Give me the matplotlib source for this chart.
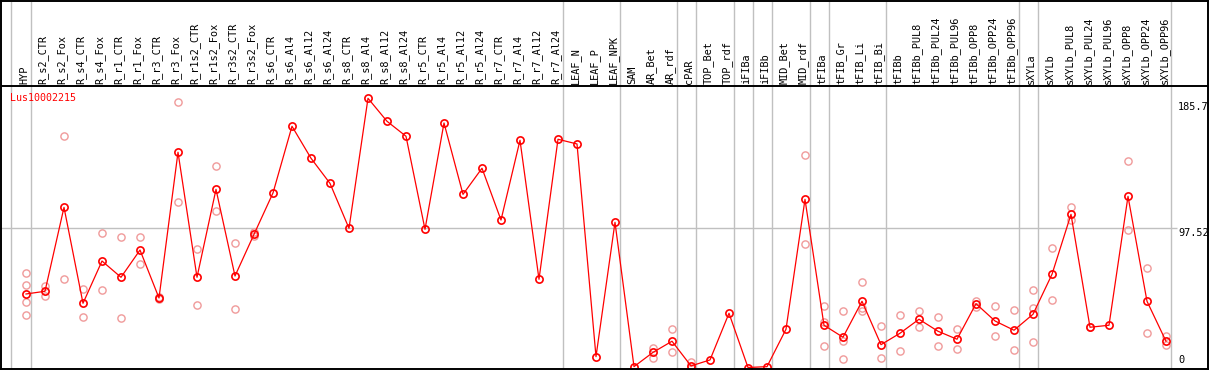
import numpy as np
import matplotlib
matplotlib.use("Agg")
import matplotlib.pyplot as plt
from matplotlib.transforms import blended_transform_factory

gene = "Lus10002215"

samples = ["HYP", "R_s2_CTR", "R_s2_Fox", "R_s4_CTR", "R_s4_Fox", "R_r1_CTR", "R_r1_Fox",
           "R_r3_CTR", "R_r3_Fox", "R_r1s2_CTR", "R_r1s2_Fox", "R_r3s2_CTR", "R_r3s2_Fox",
           "R_s6_CTR", "R_s6_Al4", "R_s6_Al12", "R_s6_Al24", "R_s8_CTR", "R_s8_Al4",
           "R_s8_Al12", "R_s8_Al24", "R_r5_CTR", "R_r5_Al4", "R_r5_Al12", "R_r5_Al24",
           "R_r7_CTR", "R_r7_Al4", "R_r7_Al12", "R_r7_Al24", "LEAF_N", "LEAF_P", "LEAF_NPK",
           "SAM", "AR_Bet", "AR_rdf", "cPAR", "TOP_Bet", "TOP_rdf", "iFIBa", "iFIBb",
           "MID_Bet", "MID_rdf", "tFIBa", "tFIB_Gr", "tFIB_Li", "tFIB_Bi", "tFIBb",
           "tFIBb_PUL8", "tFIBb_PUL24", "tFIBb_PUL96", "tFIBb_OPP8", "tFIBb_OPP24",
           "tFIBb_OPP96", "sXYLa", "sXYLb", "sXYLb_PUL8", "sXYLb_PUL24", "sXYLb_PUL96",
           "sXYLb_OPP8", "sXYLb_OPP24", "sXYLb_OPP96"]

means = [51.5, 53.4, 112.2, 45.0, 74.6, 63.2, 82.3, 48.7, 150.8, 63.2, 124.8, 64.1, 93.3,
         122.3, 169.0, 146.6, 129.0, 97.5, 188.6, 172.5, 162.0, 96.8, 171.3, 121.3, 139.6,
         103.3, 159.2, 61.8, 159.9, 156.6, 7.6, 101.7, 0.6, 10.6, 18.4, 1.1, 5.3, 38.0,
         0.0, 0.6, 26.8, 117.8, 29.6, 21.2, 46.4, 16.0, 24.0, 33.8, 25.4, 19.8, 44.7,
         32.6, 26.1, 37.3, 65.3, 107.3, 28.2, 29.6, 119.9, 46.4, 18.4]

# replicate values (sample name, value)
rep_names = ["HYP", "HYP", "HYP", "HYP", "R_s2_CTR", "R_s2_CTR", "R_s2_Fox", "R_s2_Fox",
             "R_s4_CTR", "R_s4_CTR", "R_s4_Fox", "R_s4_Fox", "R_r1_CTR", "R_r1_CTR",
             "R_r1_Fox", "R_r1_Fox", "R_r3_CTR", "R_r3_CTR", "R_r3_Fox", "R_r3_Fox",
             "R_r1s2_CTR", "R_r1s2_CTR", "R_r1s2_Fox", "R_r1s2_Fox", "R_r3s2_CTR",
             "R_r3s2_CTR", "R_r3s2_Fox", "R_r3s2_Fox", "AR_Bet", "AR_Bet", "AR_rdf",
             "AR_rdf", "cPAR", "cPAR", "MID_rdf", "MID_rdf", "tFIBa", "tFIBa", "tFIBa",
             "tFIB_Gr", "tFIB_Gr", "tFIB_Gr", "tFIB_Li", "tFIB_Li", "tFIB_Li", "tFIB_Bi",
             "tFIB_Bi", "tFIBb", "tFIBb", "tFIBb_PUL8", "tFIBb_PUL8", "tFIBb_PUL24",
             "tFIBb_PUL24", "tFIBb_PUL96", "tFIBb_PUL96", "tFIBb_OPP8", "tFIBb_OPP8",
             "tFIBb_OPP24", "tFIBb_OPP24", "tFIBb_OPP96", "tFIBb_OPP96", "sXYLa", "sXYLa",
             "sXYLa", "sXYLb", "sXYLb", "sXYLb_PUL8", "sXYLb_PUL8", "sXYLb_PUL24",
             "sXYLb_OPP8", "sXYLb_OPP8", "sXYLb_OPP24", "sXYLb_OPP24", "sXYLb_OPP96",
             "sXYLb_OPP96"]
rep_values = [66.0, 57.8, 46.1, 36.6, 57.3, 50.3, 162.2, 61.8, 54.8, 35.2, 94.0, 54.1,
              91.2, 34.5, 91.2, 72.3, 48.0, 49.5, 185.8, 115.7, 82.8, 43.6, 141.0, 109.4,
              87.0, 40.8, 94.9, 92.1, 13.7, 6.9, 26.8, 10.6, 3.9, 0.0, 148.9, 86.3, 43.1,
              31.9, 14.9, 39.4, 18.8, 6.0, 60.1, 39.8, 41.5, 28.9, 6.7, 36.6, 11.6, 39.4,
              28.2, 35.2, 14.9, 26.8, 12.8, 46.8, 42.2, 42.9, 21.9, 40.1, 12.1, 54.1, 41.5,
              17.7, 83.5, 47.1, 112.2, 103.1, 28.2, 144.5, 96.1, 69.5, 24.0, 21.9, 15.6]

# group separators come after these samples
group_ends = ["HYP", "R_r7_Al24", "LEAF_NPK", "AR_rdf", "cPAR", "TOP_rdf", "iFIBa",
              "iFIBb", "MID_rdf", "tFIBa", "tFIB_Bi", "tFIBb_OPP96", "sXYLa", "sXYLb_OPP96"]

tick_vals = [185.7, 97.52, 0]

W, H = 1209, 370
fig = plt.figure(figsize=(W / 100, H / 100), dpi=100)
# pixel geometry of the reference
top_px, bot_px, left_px, right_px = 0.5, 368.5, 1.0, 1207.5
ax = fig.add_axes([left_px / W, (H - bot_px) / H, (right_px - left_px) / W, (bot_px - top_px) / H])

scale = (367.5 - 228.3) / 97.52  # px per unit
x0_px, step_px = 26.0, 19.0
ax.set_xlim((left_px - x0_px) / step_px, (right_px - x0_px) / step_px)
ax.set_ylim((367.5 - bot_px) / scale, (367.5 - top_px) / scale)
header_y = (367.5 - 85.7) / scale
label_y = (367.5 - 83.5) / scale
ax.axis("off")

x = np.arange(len(samples))
pos = {s: i for i, s in enumerate(samples)}

grey = "#c0c0c0"
x_end = (1177 - x0_px) / step_px
x_sep0 = -1 + 0.22
ax.vlines([x_sep0] + [pos[g] + 0.24 for g in group_ends], ax.get_ylim()[0], ax.get_ylim()[1],
          color=grey, lw=1.0, zorder=1)
ax.hlines(97.52, ax.get_xlim()[0], x_end, color=grey, lw=1.0, zorder=1)

# frame
ax.hlines(header_y, ax.get_xlim()[0], ax.get_xlim()[1], color="black", lw=1.4, zorder=5)
for sp in ["left", "right", "top", "bottom"]:
    pass
ax.plot([ax.get_xlim()[0]] * 2, ax.get_ylim(), color="black", lw=1.4, zorder=5, clip_on=False)
ax.plot([ax.get_xlim()[1]] * 2, ax.get_ylim(), color="black", lw=1.4, zorder=5, clip_on=False)
ax.plot(ax.get_xlim(), [ax.get_ylim()[1]] * 2, color="black", lw=1.4, zorder=5, clip_on=False)
ax.plot(ax.get_xlim(), [ax.get_ylim()[0]] * 2, color="black", lw=1.4, zorder=5, clip_on=False)

# replicates
rx = [pos[n] for n in rep_names]
ax.plot(rx, rep_values, ls="none", marker="o", ms=5.2, mfc="none", mec="#f09a9a", mew=1.0,
        zorder=2)

# mean line
ax.plot(x, means, color="#ff0000", lw=0.9, marker="o", ms=5.2, mfc="none", mec="#ff0000",
        mew=1.2, zorder=3)

mono = "DejaVu Sans Mono"
for i, s in enumerate(samples):
    ax.text(i - 0.1, label_y, s, rotation=90, ha="center", va="bottom", fontsize=7.4,
            family=mono, color="black")

ax.text((10 - x0_px) / step_px, (367.5 - 97.5) / scale, gene, ha="left", va="center",
        fontsize=7.2, family=mono, color="#ff0000")

trans = blended_transform_factory(fig.transFigure, ax.transData)
for v in tick_vals:
    va = "bottom" if v == 0 else "top"
    yy = v + (2.5 / scale if v == 0 else 0)
    ax.text(1178 / W, yy, f"{v:g}", transform=trans, ha="left", va=va, fontsize=7.4,
            family=mono, color="black")

fig.savefig("out.png", dpi=100)
